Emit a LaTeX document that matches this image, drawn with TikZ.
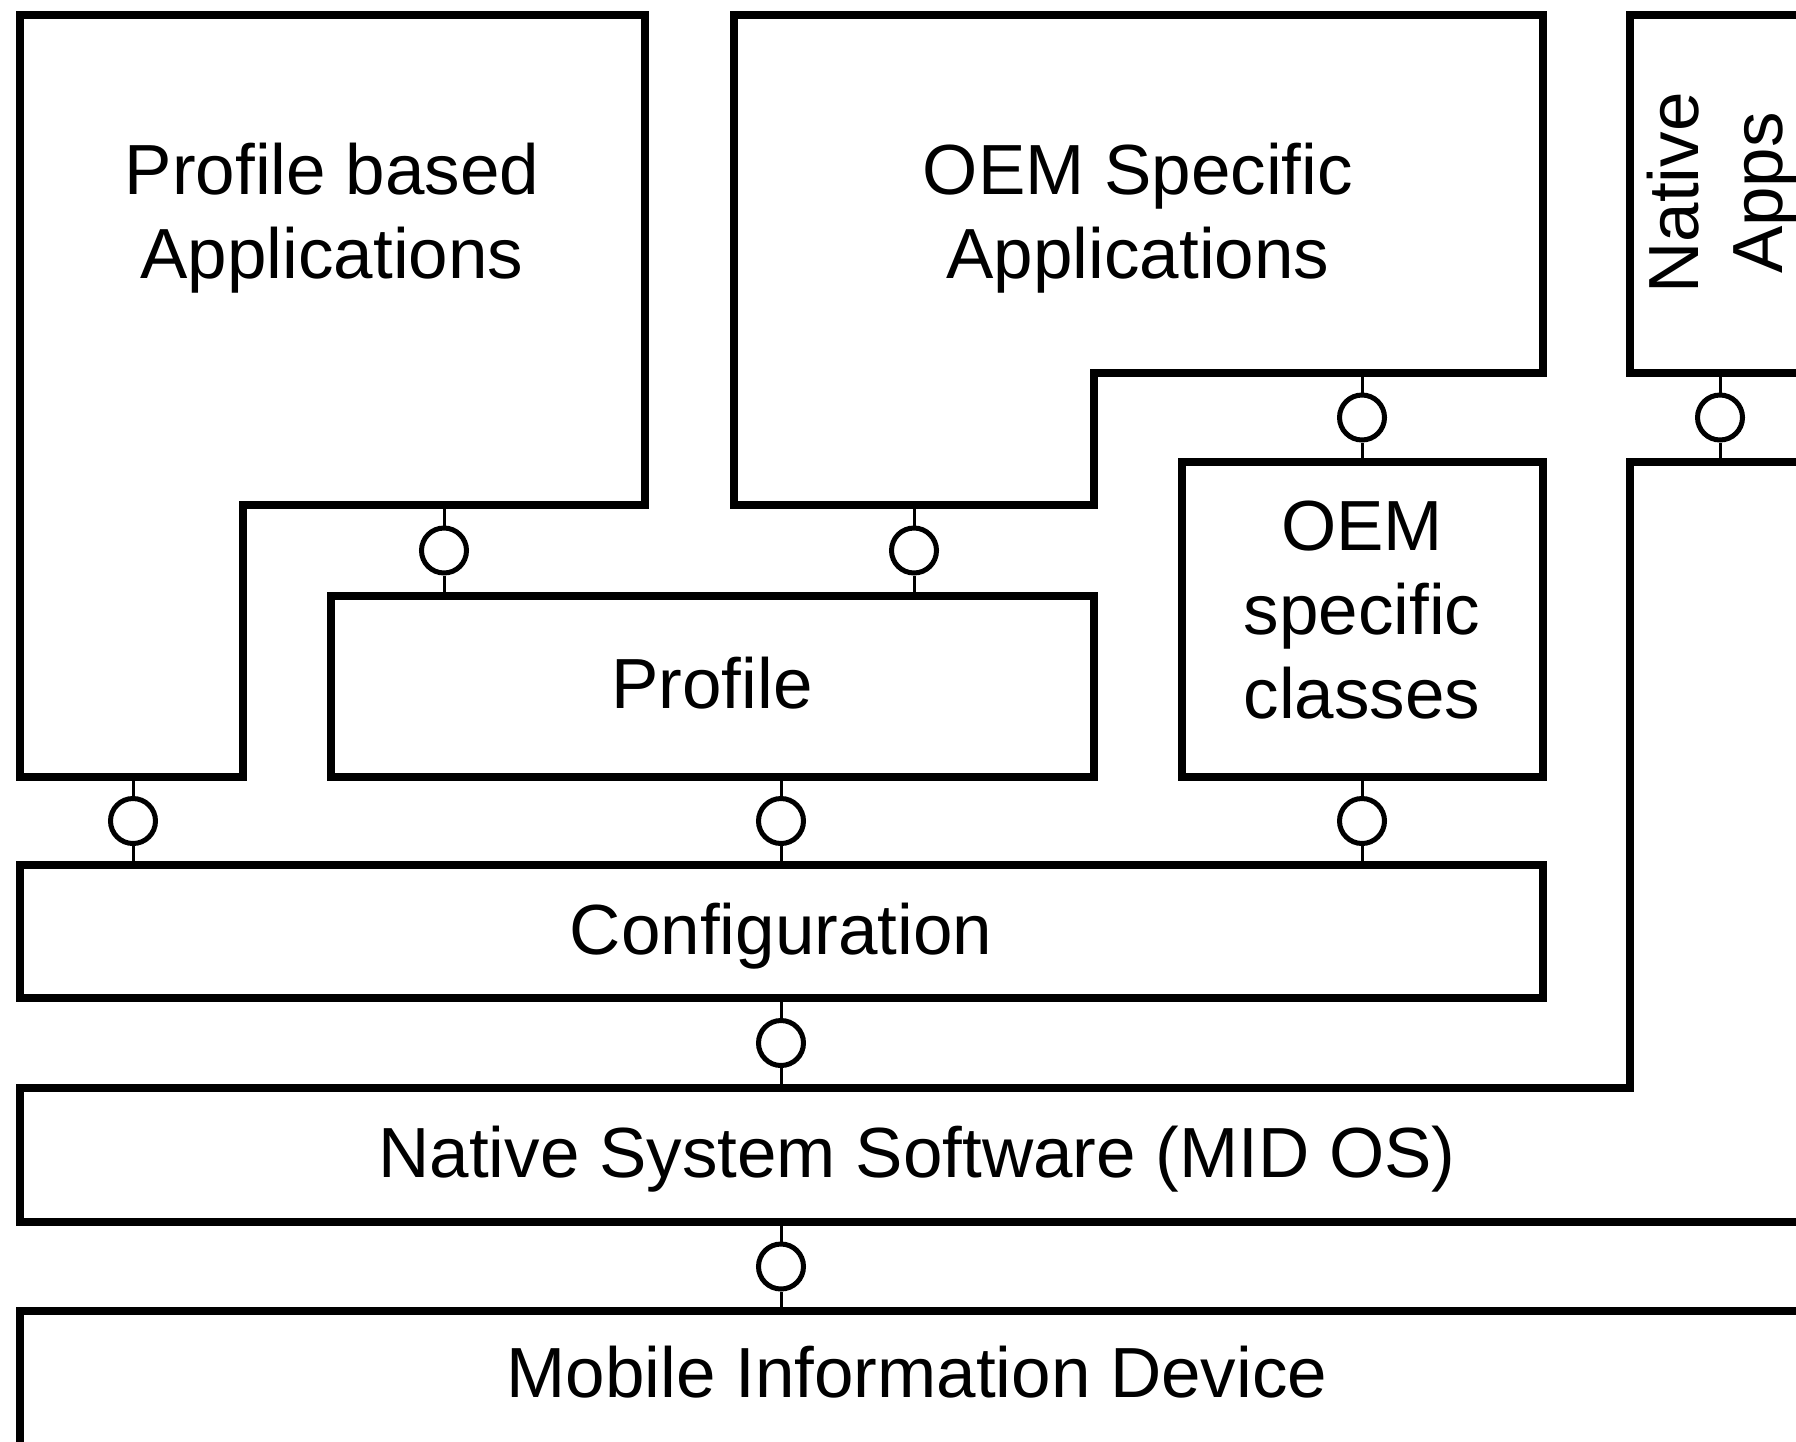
\documentclass[tikz,border=0pt]{standalone}
\usepackage{fontspec}
\setmainfont{Liberation Sans}
\usetikzlibrary{calc}
\begin{document}
\begin{tikzpicture}[x=1pt,y=-1pt,
  block/.style={draw=black,line width=8pt,line join=miter,fill=white},
  label/.style={inner sep=0pt,align=center,font=\fontsize{71}{84}\selectfont},
  socket/.style={circle,draw=black,line width=5pt,fill=white,minimum size=45pt,inner sep=0pt},
  stem/.style={draw=black,line width=3pt}]
\useasboundingbox (0,0) rectangle (1796,1441);
\fill[white] (0,0) rectangle (1796,1441);
\clip (0,0) rectangle (1796,1441);

% ---- block outlines ----
\draw[block] (20,15) -- (645,15) -- (645,505) -- (243,505) -- (243,777) -- (20,777) -- cycle;
\draw[block] (734,15) -- (1543,15) -- (1543,373) -- (1094,373) -- (1094,505) -- (734,505) -- cycle;
\draw[block] (1630,15) -- (1815,15) -- (1815,373) -- (1630,373) -- cycle;
\draw[block] (331,596) rectangle (1094,777);
\draw[block] (1182,462) rectangle (1543,777);
\draw[block] (20,865) rectangle (1543,998);
\draw[block] (20,1088) -- (1630,1088) -- (1630,462) -- (1815,462) -- (1815,1222) -- (20,1222) -- cycle;
\draw[block] (20,1311) rectangle (1815,1520);

% ---- block labels ----
\node[label,anchor=north] (tpba) at (332,143) {Profile based\\Applications};
\node[label,anchor=north] (toem) at (1138,143) {OEM Specific\\Applications};
\node[label,anchor=center,rotate=90] (tnat) at (1722,193) {Native\\Apps};
\node[label,anchor=base] (tprof) at (712,708) {Profile};
\node[label,anchor=north] (tcls) at (1362,501) {OEM\\specific\\classes};
\node[label,anchor=base] (tcfg) at (781,954) {Configuration};
\node[label,anchor=base] (tnss) at (917,1177) {Native System Software (MID OS)};
\node[label,anchor=base] (tmid) at (917,1397) {Mobile Information Device};

% ---- interface attachment points ----
\coordinate (pbaA) at (444,505);  \coordinate (profA) at (444,596);
\coordinate (oemA) at (914,505);  \coordinate (profB) at (914,596);
\coordinate (oemB) at (1362,373); \coordinate (clsA) at (1362,462);
\coordinate (natA) at (1720,373); \coordinate (nssA) at (1720,462);
\coordinate (pbaB) at (133,777);  \coordinate (cfgA) at (133,865);
\coordinate (profC) at (781,777); \coordinate (cfgB) at (781,865);
\coordinate (clsB) at (1362,777); \coordinate (cfgC) at (1362,865);
\coordinate (cfgD) at (781,998);  \coordinate (nssB) at (781,1088);
\coordinate (nssC) at (781,1222); \coordinate (midA) at (781,1311);

% ---- lollipop interfaces ----
\node[socket] (s1) at ($(pbaA)!0.5!(profA)$) {};
\node[socket] (s2) at ($(oemA)!0.5!(profB)$) {};
\node[socket] (s3) at ($(oemB)!0.5!(clsA)$) {};
\node[socket] (s4) at ($(natA)!0.5!(nssA)$) {};
\node[socket] (s5) at ($(pbaB)!0.5!(cfgA)$) {};
\node[socket] (s6) at ($(profC)!0.5!(cfgB)$) {};
\node[socket] (s7) at ($(clsB)!0.5!(cfgC)$) {};
\node[socket] (s8) at ($(cfgD)!0.5!(nssB)$) {};
\node[socket] (s9) at ($(nssC)!0.5!(midA)$) {};

\draw[stem] (pbaA) -- (s1) -- (profA);
\draw[stem] (oemA) -- (s2) -- (profB);
\draw[stem] (oemB) -- (s3) -- (clsA);
\draw[stem] (natA) -- (s4) -- (nssA);
\draw[stem] (pbaB) -- (s5) -- (cfgA);
\draw[stem] (profC) -- (s6) -- (cfgB);
\draw[stem] (clsB) -- (s7) -- (cfgC);
\draw[stem] (cfgD) -- (s8) -- (nssB);
\draw[stem] (nssC) -- (s9) -- (midA);
\end{tikzpicture}
\end{document}
